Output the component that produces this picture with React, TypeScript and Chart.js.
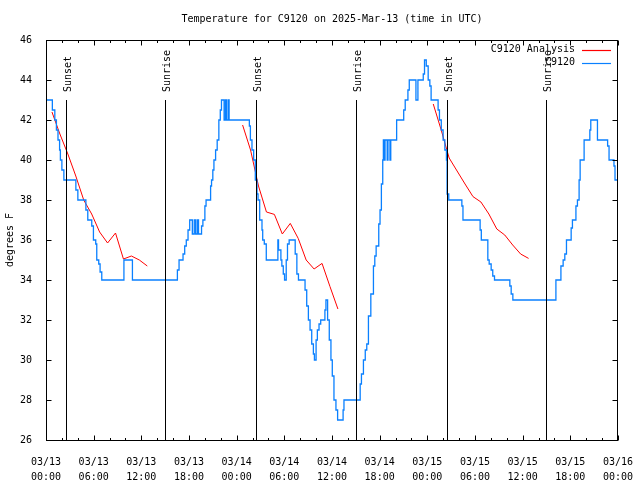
import React, { useEffect, useRef } from 'react';
import { Chart, registerables } from 'chart.js';

Chart.register(...registerables);

const FONT_FAMILY = '"DejaVu Sans Mono", "Liberation Mono", monospace';

const titleText = 'Temperature for C9120 on 2025-Mar-13 (time in UTC)';
const yAxisTitle = 'degrees F';
const obsLabel = 'C9120';
const analysisLabel = 'C9120 Analysis';

// hours since 03/13 00:00 UTC at which the observed value changes, and the new value (deg F)
const obsHours = [
  0, 0.8, 1.11, 1.31, 1.51, 1.71, 1.81, 2.0, 2.25, 3.76, 4.01, 5.02, 5.26, 5.76, 5.97, 6.26, 6.39, 6.64, 6.81, 7.02,
  9.81, 10.88, 16.54, 16.75, 17.25, 17.46, 17.66, 17.88, 18.09, 18.42, 18.66, 18.83, 19.04, 19.2, 19.58, 19.75,
  20.0, 20.15, 20.72, 20.84, 21.0, 21.14, 21.35, 21.55, 21.76, 21.94, 22.09, 22.42, 22.59, 22.72, 22.93, 23.05,
  25.6, 25.73, 25.93, 26.14, 26.35, 26.56, 26.69, 26.9, 27.19, 27.28, 27.48, 27.73, 29.19, 29.27, 29.57, 29.69,
  29.87, 30.03, 30.24, 30.4, 30.61, 31.37, 31.58, 31.78, 32.61, 32.82, 33.03, 33.24, 33.45, 33.66, 33.79, 34.0,
  34.16, 34.37, 34.58, 35.11, 35.24, 35.45, 35.66, 35.87, 36.04, 36.25, 36.5, 36.71, 37.4, 37.51, 39.55, 39.71,
  39.96, 40.19, 40.38, 40.59, 40.89, 41.22, 41.39, 41.56, 41.89, 42.05, 42.22, 42.39, 42.47, 42.58, 42.68,
  42.95, 43.05, 43.3, 43.4, 44.14, 45.03, 45.22, 45.56, 45.73, 46.57, 46.82, 47.49, 47.65, 47.87, 48.11,
  48.32, 48.48, 49.36, 49.53, 49.76, 49.99, 50.21, 50.41, 50.49, 50.7, 52.35, 52.49, 54.65, 54.8, 55.62, 55.79,
  56.04, 56.24, 56.46, 58.39, 58.56, 58.77, 64.19, 64.82, 65.1, 65.31, 65.52, 66.11, 66.27, 66.71, 66.9, 67.11,
  67.24, 67.74, 68.46, 68.58, 69.42, 70.7, 70.88, 71.5, 71.63, 71.9,
];
const obsTemps = [
  43, 42.5, 42, 41.5, 41, 40.5, 40, 39.5, 39, 38.5, 38, 37.5, 37, 36.7, 36, 35.8, 35, 34.8, 34.4, 34,
  35, 34, 34.5, 35, 35.3, 35.7, 36, 36.5, 37, 36.3, 37, 36.3, 37, 36.3, 36.7, 37,
  37.7, 38, 38.7, 39, 39.5, 40, 40.5, 41, 42, 42.5, 43, 42, 43, 42, 43, 42,
  41.7, 41, 40.5, 40, 39, 38.3, 38, 37, 36.5, 36, 35.8, 35, 36, 35.5, 35, 34.7,
  34.3, 34, 35, 35.8, 36, 35.3, 34.3, 34, 33.5, 32.7, 32, 31.5, 30.8, 30.3, 30, 31,
  31.5, 31.8, 32, 32.5, 33, 32, 31, 30, 29.2, 28, 27.5, 27, 27.5, 28, 28.8, 29.3,
  30, 30.5, 30.8, 32.2, 33.3, 34.7, 35.2, 35.7, 36.8, 37.5, 38.8, 40, 41, 40, 41,
  40, 41, 40, 41, 42, 42.5, 43, 43.5, 44, 43, 44, 44.3, 45, 44.7, 44,
  43.7, 43, 42.5, 42, 41.5, 41, 40.5, 40, 38.3, 38, 37.7, 37, 36.5, 36, 35, 34.8,
  34.5, 34.2, 34, 33.7, 33.3, 33, 34, 34.7, 35, 35.3, 36, 36.6, 37, 37.7, 38, 39,
  40, 41, 41.5, 42, 41, 40.7, 40, 39.7, 39, 39,
];

// hourly analysis values; null marks the gaps between the three runs
const analysisHours = [
  0.75, 1.75, 2.75, 3.75, 4.75, 5.75, 6.75, 7.75, 8.75, 9.75, 10.75, 11.75, 12.75,
  18.75,
  24.75, 25.75, 26.75, 27.75, 28.75, 29.75, 30.75, 31.75, 32.75, 33.75, 34.75, 35.75, 36.75,
  42.75,
  48.75, 49.75, 50.75, 51.75, 52.75, 53.75, 54.75, 55.75, 56.75, 57.75, 58.75, 59.75, 60.75,
];
const analysisTemps = [
  42.4, 41.3, 40.3, 39.2, 38.0, 37.3, 36.4, 35.85, 36.35, 35.05, 35.2, 35.0, 34.7,
  null,
  41.75, 40.5, 38.7, 37.4, 37.28, 36.3, 36.83, 36.08, 35.0, 34.55, 34.83, 33.67, 32.55,
  null,
  42.8, 41.5, 40.1, 39.45, 38.8, 38.17, 37.9, 37.3, 36.55, 36.25, 35.75, 35.3, 35.08,
];

const sunHours = [2.47, 15.04, 26.44, 38.97, 50.49, 62.9];
const sunLabels = ['Sunset', 'Sunrise', 'Sunset', 'Sunrise', 'Sunset', 'Sunrise'];
const sunLineTop = 43;

const xTickLabels = [
  ['03/13', '00:00'], ['03/13', '06:00'], ['03/13', '12:00'], ['03/13', '18:00'],
  ['03/14', '00:00'], ['03/14', '06:00'], ['03/14', '12:00'], ['03/14', '18:00'],
  ['03/15', '00:00'], ['03/15', '06:00'], ['03/15', '12:00'], ['03/15', '18:00'],
  ['03/16', '00:00'],
];

const RED = '#ff0000';
const BLUE = '#0a80ff';

const decorPlugin = {
  id: 'gnuplotDecor',
  afterDraw(chart: any) {
    const { ctx, chartArea: a, scales } = chart;
    const xs = scales.x;
    const ys = scales.y;
    const L = Math.floor(a.left) + 0.5;
    const R = Math.floor(a.right) + 0.5;
    const T = Math.floor(a.top) + 0.5;
    const B = Math.floor(a.bottom) + 0.5;
    ctx.save();
    ctx.strokeStyle = '#000';
    ctx.fillStyle = '#000';
    ctx.lineWidth = 1;
    ctx.font = '10px ' + FONT_FAMILY;

    // sunrise / sunset markers
    const topY = Math.round(ys.getPixelForValue(sunLineTop));
    sunHours.forEach((h, i) => {
      const px = Math.round(xs.getPixelForValue(h)) + 0.5;
      ctx.beginPath();
      ctx.moveTo(px, topY);
      ctx.lineTo(px, B);
      ctx.stroke();
      ctx.save();
      ctx.translate(px + 1.5, topY - 8);
      ctx.rotate(-Math.PI / 2);
      ctx.textAlign = 'left';
      ctx.textBaseline = 'middle';
      ctx.fillText(sunLabels[i], 0, 0);
      ctx.restore();
    });

    // border
    ctx.strokeRect(L, T, R - L, B - T);

    // inward ticks
    ctx.beginPath();
    xs.ticks.forEach((t: any) => {
      const px = Math.round(xs.getPixelForValue(t.value)) + 0.5;
      const len = t.value % 6 === 0 ? 5 : 2.5;
      ctx.moveTo(px, B);
      ctx.lineTo(px, B - len);
      ctx.moveTo(px, T);
      ctx.lineTo(px, T + len);
    });
    ys.ticks.forEach((t: any) => {
      const py = Math.round(ys.getPixelForValue(t.value)) + 0.5;
      ctx.moveTo(L, py);
      ctx.lineTo(L + 5, py);
      ctx.moveTo(R, py);
      ctx.lineTo(R - 5, py);
    });
    ctx.stroke();

    // legend (top right, inside plot)
    const ds = chart.data.datasets;
    const rows = [ds[1], ds[0]];
    rows.forEach((d: any, i: number) => {
      const y = 49.5 + i * 13;
      ctx.textAlign = 'right';
      ctx.textBaseline = 'middle';
      ctx.fillStyle = '#000';
      ctx.fillText(d.label, 575, y);
      ctx.strokeStyle = d.borderColor;
      ctx.lineWidth = 1.2;
      ctx.beginPath();
      ctx.moveTo(582, Math.round(y) + 0.5);
      ctx.lineTo(611, Math.round(y) + 0.5);
      ctx.stroke();
    });
    ctx.restore();
  },
};

export default function App() {
  const canvasRef = useRef<HTMLCanvasElement | null>(null);

  useEffect(() => {
    if (!canvasRef.current) return;
    Chart.defaults.font.family = FONT_FAMILY;
    Chart.defaults.color = '#000';

    const obsData = obsHours.map((h, i) => ({ x: h, y: obsTemps[i] }));
    const analysisData = analysisHours.map((h, i) => ({ x: h, y: analysisTemps[i] }));

    const chart = new Chart(canvasRef.current, {
      type: 'line',
      data: {
        datasets: [
          {
            label: obsLabel,
            data: obsData,
            borderColor: BLUE,
            borderWidth: 1.3,
            pointRadius: 0,
            stepped: 'before',
            fill: false,
          },
          {
            label: analysisLabel,
            data: analysisData as any,
            borderColor: RED,
            borderWidth: 1,
            pointRadius: 0,
            spanGaps: false,
            fill: false,
            tension: 0,
          },
        ],
      },
      options: {
        animation: false,
        responsive: false,
        devicePixelRatio: 1,
        layout: { padding: { left: 0, right: 19, top: 0, bottom: 0 } },
        plugins: {
          legend: { display: false },
          tooltip: { enabled: false },
          title: {
            display: true,
            text: titleText,
            fullSize: false,
            color: '#000',
            font: { size: 10, weight: 'normal', family: FONT_FAMILY, lineHeight: 1.2 },
            padding: { top: 13, bottom: 15 },
          },
        },
        scales: {
          x: {
            type: 'linear',
            min: 0,
            max: 72,
            grid: { display: false },
            border: { display: false },
            ticks: {
              stepSize: 2,
              autoSkip: false,
              maxRotation: 0,
              padding: 7,
              color: '#000',
              font: { size: 10, family: FONT_FAMILY, lineHeight: 1.5 },
              callback: (v: any) => (Number(v) % 6 === 0 ? xTickLabels[Number(v) / 6] : ''),
            },
            afterFit: (s: any) => {
              s.height = 40;
            },
          },
          y: {
            type: 'linear',
            min: 26,
            max: 46,
            grid: { display: false },
            border: { display: false },
            title: {
              display: true,
              text: yAxisTitle,
              color: '#000',
              font: { size: 10, family: FONT_FAMILY, lineHeight: 1.2 },
              padding: { top: 4, bottom: 0 },
            },
            ticks: {
              stepSize: 2,
              padding: 6,
              color: '#000',
              font: { size: 10, family: FONT_FAMILY },
            },
            afterFit: (s: any) => {
              s.width = 46;
            },
          },
        },
      },
      plugins: [decorPlugin],
    });
    return () => chart.destroy();
  }, []);

  return (
    <div style={{ position: 'absolute', left: 0, top: 0, width: 640, height: 480, background: '#fff' }}>
      <canvas ref={canvasRef} width={640} height={480} style={{ display: 'block' }} />
    </div>
  );
}
